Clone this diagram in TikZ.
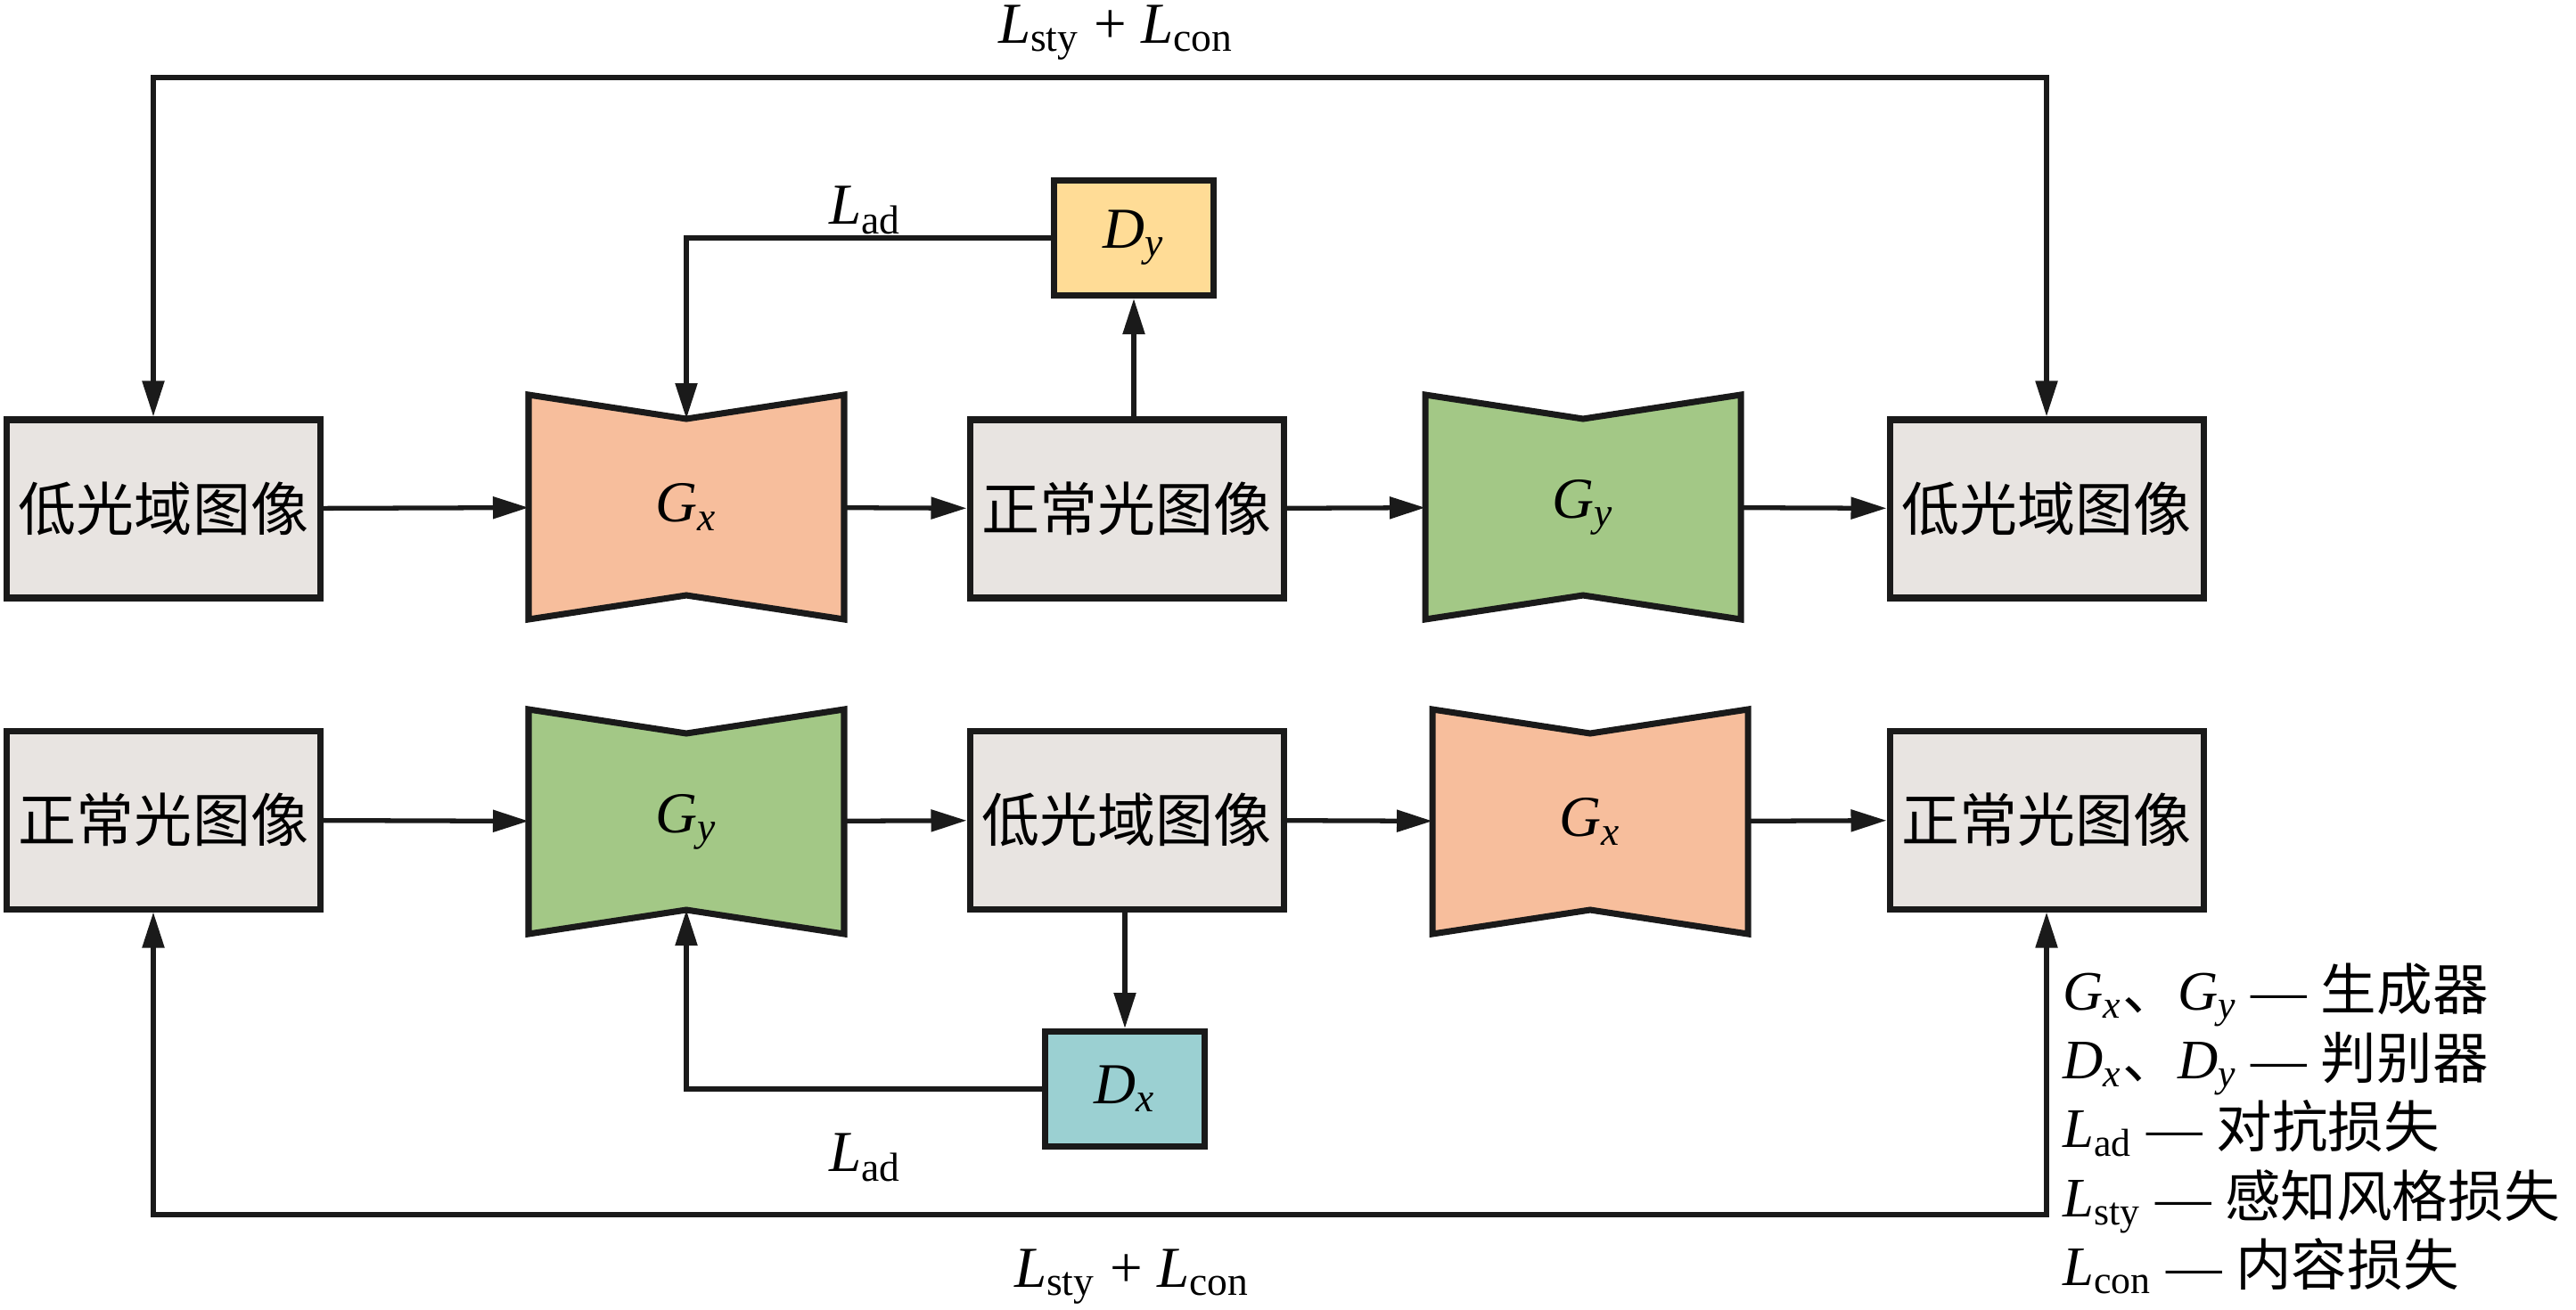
\documentclass[tikz,border=0pt]{standalone}
\usepackage{fontspec}
\setmainfont{Liberation Serif}
\newfontfamily\cjk{Noto Sans CJK SC}
\usetikzlibrary{positioning,arrows.meta,backgrounds}

\definecolor{imggray}{RGB}{232,228,225}
\definecolor{genx}{RGB}{247,190,156}
\definecolor{geny}{RGB}{163,200,134}
\definecolor{disy}{RGB}{255,220,150}
\definecolor{disx}{RGB}{155,208,210}
\definecolor{ink}{RGB}{26,26,26}

\newcommand{\vsym}[2]{\textit{#1}\textsubscript{\textit{#2}}}
\newcommand{\lsym}[2]{\textit{#1}\textsubscript{#2}}

\tikzset{
    img/.style={draw=ink, fill=imggray, line width=2pt, inner sep=0pt,
        minimum width=3.52cm, minimum height=2cm,
        font=\cjk\fontsize{18.5}{22}\selectfont},
    gen/.style={inner sep=0pt, outer sep=0pt,
        minimum width=3.54cm, minimum height=2.52cm},
    dis/.style={draw=ink, line width=2pt, inner sep=0pt,
        minimum width=1.79cm, minimum height=1.29cm},
    flow/.style={draw=ink, line width=1.5pt,
        -{Triangle[length=4mm,width=2.4mm]}},
    both/.style={draw=ink, line width=1.5pt,
        {Triangle[length=4mm,width=2.4mm]}-{Triangle[length=4mm,width=2.4mm]}}
}

% bow-tie outline of a generator, put behind node #1
\newcommand{\genbody}[2]{%
    \filldraw[draw=ink, fill=#2, line width=2pt, line join=miter]
        (#1.north west) -- ([yshift=-2.7mm]#1.north) -- (#1.north east)
        -- (#1.south east) -- ([yshift=2.7mm]#1.south) -- (#1.south west) -- cycle;}

\begin{document}
\begin{tikzpicture}[font=\fontsize{18.5}{22}\selectfont]
\useasboundingbox (0,0) rectangle (28.9,-14.69);

% low light -> normal -> low light
\node[img] (lowa) at (1.835,-5.71) {低光域图像};
\node[gen] (gxa) at (7.70,-5.69) {\vsym{G}{x}};
\node[img] (norma) at (12.64,-5.71) {正常光图像};
\node[gen] (gya) at (17.76,-5.69) {\vsym{G}{y}};
\node[img] (lowb) at (22.96,-5.71) {低光域图像};
\node[dis, fill=disy] (dy) at (12.72,-2.67) {\vsym{D}{y}};

% normal -> low light -> normal
\node[img] (normc) at (1.835,-9.20) {正常光图像};
\node[gen] (gyc) at (7.70,-9.22) {\vsym{G}{y}};
\node[img] (lowc) at (12.64,-9.20) {低光域图像};
\node[gen] (gxc) at (17.84,-9.22) {\vsym{G}{x}};
\node[img] (normd) at (22.96,-9.20) {正常光图像};
\node[dis, fill=disx] (dx) at (12.62,-12.22) {\vsym{D}{x}};

\begin{scope}[on background layer]
    \genbody{gxa}{genx}
    \genbody{gya}{geny}
    \genbody{gyc}{geny}
    \genbody{gxc}{genx}
\end{scope}

\coordinate (gxa-in) at ([yshift=-2.7mm]gxa.north);
\coordinate (gyc-in) at ([yshift=2.7mm]gyc.south);
\coordinate (top) at (0,-0.87);
\coordinate (bot) at (0,-13.63);

\draw[flow] (lowa) -- (gxa);
\draw[flow] (gxa) -- (norma);
\draw[flow] (norma) -- (gya);
\draw[flow] (gya) -- (lowb);
\draw[flow] (norma.north -| dy) -- (dy);
\draw[flow] (dy.west) -| (gxa-in);
\draw[both] ([xshift=-1.15mm]lowa.north) -- ([xshift=-1.15mm]lowa.north |- top)
    -- (lowb.north |- top) -- (lowb.north);

\draw[flow] (normc) -- (gyc);
\draw[flow] (gyc) -- (lowc);
\draw[flow] (lowc) -- (gxc);
\draw[flow] (gxc) -- (normd);
\draw[flow] (lowc.south -| dx) -- (dx);
\draw[flow] (dx.west) -| (gyc-in);
\draw[both] ([xshift=-1.15mm]normc.south) -- ([xshift=-1.15mm]normc.south |- bot)
    -- (normd.south |- bot) -- (normd.south);

% loss labels
\node (lossa) at (12.52,-0.37) {\lsym{L}{sty} + \lsym{L}{con}};
\node (lada) at (9.71,-2.36) {\lsym{L}{ad}};
\node (ladc) at (9.71,-12.99) {\lsym{L}{ad}};
\node (lossc) at (12.70,-14.33) {\lsym{L}{sty} + \lsym{L}{con}};

% key
\node[anchor=north west, align=left, inner sep=0pt,
    font=\fontsize{17.8}{22}\selectfont] (key) at (23.14,-10.80) {%
    \vsym{G}{x}{\cjk 、}\vsym{G}{y} — {\cjk 生成器}\\
    \vsym{D}{x}{\cjk 、}\vsym{D}{y} — {\cjk 判别器}\\
    \lsym{L}{ad} — {\cjk 对抗损失}\\
    \lsym{L}{sty} — {\cjk 感知风格损失}\\
    \lsym{L}{con} — {\cjk 内容损失}};
\end{tikzpicture}
\end{document}
